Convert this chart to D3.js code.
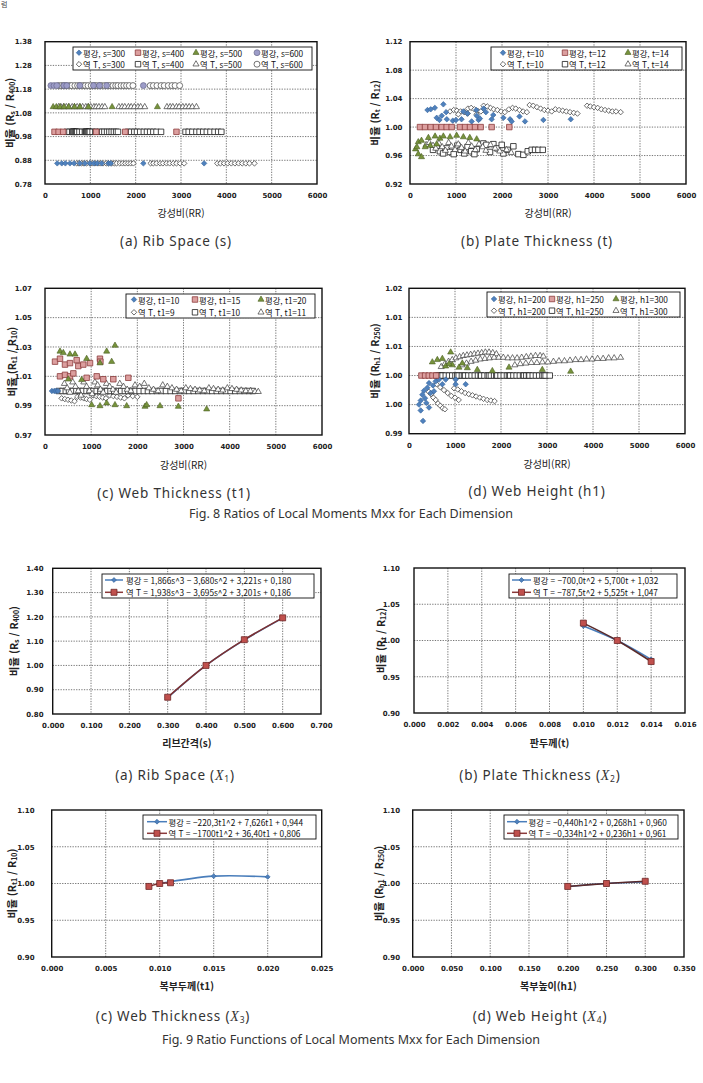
<!DOCTYPE html>
<html lang="ko">
<head>
<meta charset="UTF-8">
<title>Fig. 8 / Fig. 9 - Local Moments Mxx</title>
<script src="https://d3js.org/d3.v7.min.js"></script>
<style>
  body { margin: 0; background: #fff; }
  svg { display: block; }
</style>
</head>
<body>
<svg id="fig" width="703" height="1083"></svg>
<script>
// ---------- data : Fig. 8 (scatter, x = 강성비 RR) ----------
const rrTicks = [0, 1000, 2000, 3000, 4000, 5000, 6000];

// (a) Rib Space : every series sits on one ratio level
const f8aYTicks = [0.78, 0.88, 0.98, 1.08, 1.18, 1.28, 1.38];
const f8aLevels = [0.867, 1.000, 1.105, 1.195];           // s=300, 400, 500, 600
const f8aPg300 = [270, 370, 450, 550, 640, 770, 880, 990, 1080, 1150, 1250, 1400, 1450, 2170, 3510];
const f8aPg400 = [210, 300, 400, 1130, 1770, 2900];
const f8aPg500 = [180, 250, 330, 420, 520, 650, 770, 960, 1480, 2480];
const f8aPg600 = [130, 200, 260, 420, 480, 770, 1070, 1200, 1360, 2170];
const f8aYt300 = [700, 750, 810, 860, 920, 990, 1040, 1100, 1170, 1220, 1280, 1350, 1400, 1470, 1530, 1580, 1650, 1710, 1770, 1830, 1890, 1950,
                  2330, 2390, 2460, 2540, 2600, 2680, 2750, 2830, 2900, 2980, 3070,
                  3800, 3870, 3950, 4030, 4110, 4190, 4270, 4350, 4430, 4510, 4620];
const f8aYt400 = [480, 540, 600, 615, 630, 650, 670, 690, 710, 760, 820, 880, 895, 910, 930, 950, 970, 990, 1050, 1110, 1200, 1260, 1310, 1370, 1420, 1470, 1520, 1570, 1610,
                  1830, 1900, 1970, 2030, 2100, 2180, 2250, 2320, 2390, 2460, 2560,
                  3100, 3170, 3250, 3340, 3410, 3490, 3570, 3650, 3740, 3820, 3890];
const f8aYt500 = [300, 350, 410, 470, 530, 600, 650, 710, 770, 830, 900, 950, 1010, 1080, 1130, 1190, 1260, 1320,
                  1630, 1700, 1760, 1840, 1900, 1970, 2050, 2110, 2200,
                  2690, 2760, 2820, 2900, 2960, 3040, 3110, 3180, 3250, 3340];
const f8aYt600 = [300, 360, 410, 470, 540, 590, 660, 720, 770, 840, 890, 950, 1020, 1080, 1130, 1200, 1250, 1320, 1380, 1430, 1500, 1560, 1610, 1680, 1740, 1800, 1860, 1940,
                  2320, 2390, 2470, 2560, 2630, 2720, 2800, 2870, 2970];

// (b) Plate Thickness : [RR, ratio]
const f8bYTicks = [0.92, 0.96, 1.00, 1.04, 1.08, 1.12];
const f8bPg10 = [[380,1.024],[450,1.025],[540,1.027],[725,1.032],[580,1.013],[690,1.016],[640,1.010],[785,1.021],[800,1.011],[930,1.009],
                 [1000,1.010],[1120,1.011],[1160,1.022],[1250,1.019],[1340,1.008],[1440,1.024],[1450,1.016],[1490,1.010],[1520,1.012],[1600,1.026],
                 [1650,1.021],[1775,1.011],[1810,1.017],[2030,1.013],[2175,1.011],[2210,1.008],[2380,1.015],[2500,1.008],[2900,1.010],[3495,1.011]];
const f8bPg12 = [[217,1.000],[326,1.000],[449,1.000],[565,1.000],[688,1.000],[797,1.000],[906,1.000],[1087,1.000],[1196,1.000],[1304,1.000],
                 [1413,1.000],[1536,1.000],[1775,1.000],[2159,1.000]];
const f8bPg14 = [[120,0.969],[180,0.962],[250,0.958],[180,0.979],[250,0.981],[330,0.972],[400,0.985],[440,0.974],[545,0.987],[580,0.976],
                 [650,0.984],[725,0.987],[870,0.986],[1015,0.988],[1160,0.986],[1300,0.985],[1450,0.983],[150,0.972]];
const f8bYt10 = [[870,1.022],[950,1.024],[1020,1.023],[1100,1.022],[1180,1.021],[1260,1.026],[1330,1.027],[1400,1.025],[1470,1.023],[1540,1.022],
                 [1600,1.030],[1680,1.029],[1750,1.027],[1820,1.025],[1900,1.024],[1980,1.022],[2060,1.021],[2150,1.025],[2230,1.027],[2300,1.026],
                 [2380,1.024],[2460,1.022],[2540,1.021],[2600,1.031],[2680,1.030],[2760,1.028],[2840,1.026],[2920,1.024],[3000,1.023],[3080,1.022],
                 [3160,1.025],[3240,1.024],[3320,1.023],[3400,1.022],[3480,1.021],[3560,1.020],[3640,1.019],[3850,1.030],[3920,1.029],[4000,1.028],
                 [4080,1.027],[4160,1.025],[4240,1.024],[4320,1.023],[4400,1.022],[4480,1.022],[4580,1.021],[1050,1.018],[1250,1.019],[1450,1.018]];
const f8bYt12 = [[500,0.968],[580,0.972],[650,0.966],[720,0.963],[800,0.970],[870,0.965],[950,0.962],[1030,0.974],[1100,0.968],[1180,0.963],
                 [1250,0.972],[1330,0.966],[1400,0.962],[1450,0.969],[1595,0.977],[1660,0.975],[1740,0.965],[1813,0.976],[1900,0.970],[1994,0.975],
                 [2030,0.963],[2120,0.968],[2247,0.973],[2356,0.962],[2465,0.961],[2560,0.966],[2646,0.968],[2720,0.968],[2791,0.968],[2886,0.968]];
const f8bYt14 = [[350,0.975],[420,0.978],[500,0.974],[560,0.970],[630,0.977],[700,0.972],[770,0.967],[840,0.978],[900,0.973],[980,0.968],
                 [1050,0.976],[1120,0.971],[1200,0.966],[1270,0.978],[1340,0.973],[1420,0.968],[1500,0.976],[1580,0.972],[1650,0.967],[1750,0.975],
                 [1850,0.970],[1950,0.966],[2100,0.968],[2200,0.964]];

// (c) Web Thickness
const f8cYTicks = [0.97, 0.99, 1.01, 1.03, 1.05, 1.07];
const f8cPg10 = [[150,1.000],[200,1.000],[240,1.000],[280,1.000]];
const f8cPg15 = [[217,1.020],[325,1.022],[433,1.018],[541,1.019],[686,1.021],[722,1.017],[830,1.018],[975,1.019],[1190,1.022],[1200,1.020],
                 [325,1.010],[433,1.011],[541,1.010],[614,1.012],[902,1.009],[1120,1.010],[1263,1.008],[1480,1.008],[1805,1.009],[2890,0.995]];
const f8cPg20 = [[325,1.027],[397,1.026],[541,1.025],[650,1.025],[902,1.022],[1336,1.027],[1516,1.031],[1191,1.019],[1444,1.020],[505,1.008],
                 [794,1.0076],[1011,0.9905],[1191,0.9898],[1336,0.9917],[1516,0.9905],[1769,0.9898],[2166,0.9894],[2202,0.9905],[2491,0.9898],
                 [2888,0.9894],[3502,0.9876]];
const f8cYt9 = [[360,0.995],[430,0.9945],[500,0.994],[570,0.9935],[640,0.993],[700,0.996],[770,0.9955],[840,0.995],[900,0.9945],[970,0.994],
                [1040,0.997],[1110,0.9965],[1180,0.996],[1250,0.9955],[1320,0.995],[1400,0.997],[1480,0.9965],[1560,0.996],[1640,0.9955],[1720,0.995],
                [1800,0.997],[1900,0.9965],[2000,0.996]];
const f8cYt10 = [300, 380, 450, 520, 600, 680, 750, 820, 900, 970, 1050, 1120, 1200, 1270, 1350, 1420, 1500, 1580, 1650, 1730, 1800, 1880, 1960,
                 2050, 2140, 2230, 2320, 2420, 2520, 2620, 2720, 2820, 2920, 3020, 3120, 3220, 3320, 3420, 3520, 3620, 3720, 3820, 3920, 4020,
                 4120, 4220, 4320, 4420, 4500];
const f8cYt11 = [[420,1.005],[480,1.002],[540,0.999],[600,1.006],[660,1.003],[720,1.000],[780,0.997],[840,1.006],[900,1.003],[960,1.000],
                 [1020,0.998],[1080,1.006],[1140,1.004],[1200,1.001],[1260,0.999],[1330,1.005],[1400,1.003],[1470,1.001],[1540,0.999],[1620,1.005],
                 [1700,1.003],[1780,1.001],[1860,1.000],[1950,1.004],[2050,1.003],[2150,1.005],[2250,1.002],[2350,1.001],[2450,1.000],[2550,1.004],
                 [2650,1.003],[2750,1.002],[2850,1.001],[2950,1.000],[3050,1.002],[3150,1.0015],[3250,1.001],[3350,1.0005],[3450,1.000],[3550,1.002],
                 [3650,1.0015],[3750,1.001],[3850,1.0005],[3950,1.002],[4050,1.0015],[4150,1.001],[4250,1.0005],[4350,1.000],[4450,1.000],[4550,0.9995],
                 [4620,0.9995]];

// (d) Web Height
const f8dYTicks = [0.990, 0.995, 1.000, 1.005, 1.010, 1.015];
const f8dYLabels = ["0.99", "1.00", "1.00", "1.01", "1.01", "1.02"];
const f8dPg200 = [[217,0.9950],[254,0.9940],[304,0.9922],[290,0.9967],[348,0.9961],[398,0.9979],[435,0.9987],[471,0.9970],[522,0.9983],[580,0.9990],
                  [652,0.9993],[377,0.9953],[435,0.9945],[254,0.9957],[326,0.9974],[797,0.9993],[1014,0.9993],[1232,0.9985],[543,0.9973],[725,0.9985],
                  [1014,0.9985]];
const f8dPg250 = [[270,1.000],[350,1.000],[430,1.000],[510,1.000],[590,1.000]];
const f8dPg300 = [[507,1.0023],[616,1.0027],[725,1.0029],[906,1.0040],[797,1.0016],[942,1.0018],[1087,1.0014],[1268,1.0013],[1485,1.0010],
                  [1812,1.0008],[2174,1.0014],[2898,1.0010],[3514,1.0007],[1159,1.0021],[870,1.0020]];
const f8dYt200 = [[430,0.9972],[480,0.9968],[530,0.9962],[580,0.9958],[630,0.9952],[680,0.9948],[730,0.9944],[780,0.9942],
                  [600,0.9985],[680,0.9980],[760,0.9975],[840,0.9970],[920,0.9965],[1000,0.9962],[1080,0.9958],
                  [980,0.9978],[1060,0.9976],[1140,0.9973],[1220,0.9970],[1300,0.9968],[1380,0.9966],[1460,0.9964],[1540,0.9962],[1620,0.9960],
                  [1700,0.9958],[1780,0.9957],[1860,0.9956]];
const f8dYt250 = [620, 650, 680, 700, 730, 800, 870, 940, 1010, 1050, 1080, 1150, 1196, 1220, 1290, 1360, 1430, 1500, 1558, 1570, 1640, 1710, 1739,
                  1780, 1850, 1898, 1920, 1990, 2060, 2130, 2174, 2200, 2270, 2340, 2410, 2480, 2500, 2550, 2609, 2620, 2690, 2760, 2830,
                  2900, 2935, 2970, 3060];
const f8dYt300 = [[700,1.0015],[780,1.0020],[860,1.0024],[940,1.0027],[1020,1.0030],[1100,1.0032],[1180,1.0034],[1260,1.0035],[1340,1.0036],
                  [1420,1.0037],[1500,1.0038],[1580,1.0039],[1660,1.0040],[1740,1.0040],[1820,1.0039],[1900,1.0037],
                  [1150,1.0018],[1250,1.0021],[1350,1.0024],[1450,1.0026],[1550,1.0028],[1650,1.0029],[1750,1.0030],[1850,1.0031],[1950,1.0031],
                  [2050,1.0031],[2150,1.0030],[2250,1.0030],[2350,1.0030],[2450,1.0031],[2550,1.0032],[2650,1.0033],[2750,1.0034],[2850,1.0034],
                  [2920,1.0033],
                  [2300,1.0018],[2420,1.0020],[2540,1.0021],[2660,1.0022],[2780,1.0022],[2900,1.0023],[3020,1.0023],[3140,1.0024],[3260,1.0025],
                  [3380,1.0025],[3500,1.0026],[3620,1.0027],[3740,1.0027],[3860,1.0028],[3980,1.0028],[4100,1.0029],[4220,1.0029],[4340,1.0030],
                  [4460,1.0030],[4600,1.0031]];

// ---------- data : Fig. 9 (ratio functions) ----------
const f9aXTicks = [0, 0.1, 0.2, 0.3, 0.4, 0.5, 0.6, 0.7];
const f9aYTicks = [0.80, 0.90, 1.00, 1.10, 1.20, 1.30, 1.40];
const f9aX = [0.3, 0.4, 0.5, 0.6];
const f9aPg = [0.867, 1.000, 1.105, 1.195];
const f9aYt = [0.869, 1.000, 1.106, 1.196];

const f9bXTicks = [0, 0.002, 0.004, 0.006, 0.008, 0.010, 0.012, 0.014, 0.016];
const f9YTicks = [0.90, 0.95, 1.00, 1.05, 1.10];
const f9bX = [0.010, 0.012, 0.014];
const f9bPg = [1.020, 1.000, 0.974];
const f9bYt = [1.024, 1.000, 0.971];

const f9cXTicks = [0, 0.005, 0.010, 0.015, 0.020, 0.025];
const f9cPgX = [0.010, 0.015, 0.020];
const f9cPg = [1.000, 1.010, 1.009];
const f9cYtX = [0.009, 0.010, 0.011];
const f9cYt = [0.996, 1.000, 1.001];

const f9dXTicks = [0, 0.05, 0.10, 0.15, 0.20, 0.25, 0.30, 0.35];
const f9dX = [0.20, 0.25, 0.30];
const f9dPg = [0.996, 1.000, 1.002];
const f9dYt = [0.996, 1.000, 1.003];

// ---------- drawing ----------
const svg = d3.select("#fig");
svg.append("rect").attr("width", 703).attr("height", 1083).attr("fill", "#fff");

const KR = "'Noto Sans CJK KR', 'Noto Sans', sans-serif";
const TICKF = "'DejaVu Sans', sans-serif";

const sty = {
  pgDia:  { type: d3.symbolSquare, size: 15, rot: 45, fill: "#4f81bd", stroke: "#34639b", sw: 0.6 },
  pgSq:   { type: d3.symbolSquare, size: 30, rot: 0,  fill: "#dc9f9f", stroke: "#8c3b3b", sw: 0.8 },
  pgTri:  { type: d3.symbolTriangle, size: 16, rot: 0, fill: "#77933c", stroke: "#4a5e22", sw: 0.6 },
  pgCir:  { type: d3.symbolCircle, size: 28, rot: 0,  fill: "#9c9cc8", stroke: "#5e5e80", sw: 0.6 },
  ytDia:  { type: d3.symbolSquare, size: 15, rot: 45, fill: "#fff", stroke: "#3a3a3a", sw: 0.7 },
  ytSq:   { type: d3.symbolSquare, size: 30, rot: 0,  fill: "#fff", stroke: "#1a1a1a", sw: 0.8 },
  ytTri:  { type: d3.symbolTriangle, size: 16, rot: 0, fill: "#fff", stroke: "#3a3a3a", sw: 0.7 },
  ytCir:  { type: d3.symbolCircle, size: 28, rot: 0,  fill: "#fff", stroke: "#3a3a3a", sw: 0.7 }
};

function mark(g, px, py, s) {
  g.append("path")
    .attr("d", d3.symbol().type(s.type).size(s.size)())
    .attr("transform", `translate(${px},${py}) rotate(${s.rot})`)
    .attr("fill", s.fill).attr("stroke", s.stroke).attr("stroke-width", s.sw);
}

function frame(p) {
  const b = p.box;
  const x = d3.scaleLinear().domain(p.xDomain).range([b.x, b.x + b.w]);
  const y = d3.scaleLinear().domain(p.yDomain).range([b.y + b.h, b.y]);
  const g = svg.append("g");
  g.append("rect").attr("x", b.x).attr("y", b.y).attr("width", b.w).attr("height", b.h).attr("fill", "#fff");

  g.append("g").selectAll("line").data(p.xTicks.slice(1, -1)).join("line")
    .attr("x1", d => x(d)).attr("x2", d => x(d)).attr("y1", b.y).attr("y2", b.y + b.h)
    .attr("stroke", "#555").attr("stroke-width", 0.8).attr("stroke-dasharray", "1.3,1.3");
  g.append("g").selectAll("line").data(p.yTicks.slice(1, -1)).join("line")
    .attr("y1", d => y(d)).attr("y2", d => y(d)).attr("x1", b.x).attr("x2", b.x + b.w)
    .attr("stroke", "#555").attr("stroke-width", 0.8).attr("stroke-dasharray", "1.3,1.3");

  const ax = g.append("g").attr("transform", `translate(0,${b.y + b.h})`)
    .call(d3.axisBottom(x).tickValues(p.xTicks).tickFormat(p.xFormat).tickSize(0).tickPadding(9));
  const ay = g.append("g").attr("transform", `translate(${b.x},0)`)
    .call(d3.axisLeft(y).tickValues(p.yTicks).tickFormat(p.yFormat).tickSize(0).tickPadding(b.x - p.yLabRight));
  [ax, ay].forEach(a => {
    a.select(".domain").remove();
    a.attr("font-family", TICKF).attr("font-size", 7).attr("font-weight", "bold");
    a.selectAll("text").attr("fill", "#222");
  });

  // axis titles
  svg.append("text").attr("x", b.x + b.w / 2).attr("y", p.xTitleY)
    .attr("text-anchor", "middle").attr("dominant-baseline", "central")
    .attr("font-family", KR).attr("font-size", 10).attr("font-weight", p.xTitleBold ? "bold" : "normal")
    .attr("fill", "#222").text(p.xTitle);

  const t = svg.append("text")
    .attr("transform", `translate(${p.yTitleX},${b.y + b.h / 2}) rotate(-90)`)
    .attr("text-anchor", "middle").attr("dominant-baseline", "central")
    .attr("font-family", KR).attr("font-size", 10.5).attr("font-weight", "bold").attr("fill", "#222");
  t.append("tspan").text("비율  (R");
  t.append("tspan").attr("font-size", 7).attr("dy", 2.5).text(p.ySub[0]);
  t.append("tspan").attr("dy", -2.5).text(" / R");
  t.append("tspan").attr("font-size", 7).attr("dy", 2.5).text(p.ySub[1]);
  t.append("tspan").attr("dy", -2.5).text(")");

  return { x, y, g, b };
}

function border(pl) {
  const b = pl.b;
  svg.append("rect").attr("x", b.x).attr("y", b.y).attr("width", b.w).attr("height", b.h)
    .attr("fill", "none").attr("stroke", "#111").attr("stroke-width", 1.4);
}

function scatter(pl, pts, s) {
  const g = pl.g.append("g");
  pts.forEach(d => mark(g, pl.x(d[0]), pl.y(d[1]), s));
}

function legend8(box, colX, rowY, items) {
  svg.append("rect").attr("x", box[0]).attr("y", box[1]).attr("width", box[2] - box[0]).attr("height", box[3] - box[1])
    .attr("fill", "#fff").attr("stroke", "#111").attr("stroke-width", 0.9);
  const n = colX.length;
  const lg = svg.append("g");
  items.forEach((it, i) => {
    const cx = colX[i % n], cy = rowY[Math.floor(i / n)];
    mark(lg, cx, cy, it[0]);
    lg.append("text").attr("x", cx + 4).attr("y", cy).attr("dominant-baseline", "central")
      .attr("font-family", KR).attr("font-size", 8.3).attr("fill", "#111").text(it[1]);
  });
}

const sty9 = {
  pg: { type: d3.symbolSquare, size: 12, rot: 45, fill: "#4f81bd", stroke: "#34639b", sw: 0.6 },
  yt: { type: d3.symbolSquare, size: 36, rot: 0, fill: "#c0504d", stroke: "#6e2626", sw: 0.8 }
};

function legend9(box, x1, x2, tx, rowY, labels) {
  svg.append("rect").attr("x", box[0]).attr("y", box[1]).attr("width", box[2] - box[0]).attr("height", box[3] - box[1])
    .attr("fill", "#fff").attr("stroke", "#111").attr("stroke-width", 0.9);
  const lg = svg.append("g");
  const lineC = ["#4a7ebb", "#8b3a3a"], ms = [sty9.pg, sty9.yt];
  rowY.forEach((cy, i) => {
    lg.append("line").attr("x1", x1).attr("x2", x2).attr("y1", cy).attr("y2", cy)
      .attr("stroke", lineC[i]).attr("stroke-width", 1.5);
    mark(lg, (x1 + x2) / 2, cy, ms[i]);
    lg.append("text").attr("x", tx).attr("y", cy).attr("dominant-baseline", "central")
      .attr("font-family", KR).attr("font-size", 8.3).attr("fill", "#111").text(labels[i]);
  });
}

function fnLine(pl, xs, ys, color, s) {
  const pts = xs.map((v, i) => [pl.x(v), pl.y(ys[i])]);
  pl.g.append("path").attr("d", d3.line().curve(d3.curveCatmullRom.alpha(0.5))(pts))
    .attr("fill", "none").attr("stroke", color).attr("stroke-width", 1.6);
  pts.forEach(p => mark(pl.g, p[0], p[1], s));
}

const rrFmt = d3.format("d"), f2 = d3.format(".2f"), f3 = d3.format(".3f");

// stray glyph from the previous page line, top-left corner
svg.append("text").attr("x", 1).attr("y", 7).attr("font-family", KR).attr("font-size", 7).attr("fill", "#444").text("럼");

// ----- Fig 8 (a)
const p8a = frame({ box: { x: 45, y: 41.7, w: 272, h: 142.3 }, xDomain: [0, 6000], yDomain: [0.78, 1.38],
  xTicks: rrTicks, xFormat: rrFmt, yTicks: f8aYTicks, yFormat: f2, yLabRight: 32,
  xTitle: "강성비(RR)", xTitleY: 212, yTitleX: 9, ySub: ["s", "400"] });
scatter(p8a, f8aYt300.map(r => [r, f8aLevels[0]]), sty.ytDia);
scatter(p8a, f8aYt400.map(r => [r, f8aLevels[1]]), sty.ytSq);
scatter(p8a, f8aYt500.map(r => [r, f8aLevels[2]]), sty.ytTri);
scatter(p8a, f8aYt600.map(r => [r, f8aLevels[3]]), sty.ytCir);
scatter(p8a, f8aPg300.map(r => [r, f8aLevels[0]]), sty.pgDia);
scatter(p8a, f8aPg400.map(r => [r, f8aLevels[1]]), sty.pgSq);
scatter(p8a, f8aPg500.map(r => [r, f8aLevels[2]]), sty.pgTri);
scatter(p8a, f8aPg600.map(r => [r, f8aLevels[3]]), sty.pgCir);
border(p8a);
legend8([73, 47, 312, 70], [79, 138, 196, 257], [52.7, 64.2], [
  [sty.pgDia, "평강, s=300"], [sty.pgSq, "평강, s=400"], [sty.pgTri, "평강, s=500"], [sty.pgCir, "평강, s=600"],
  [sty.ytDia, "역 T, s=300"], [sty.ytSq, "역 T, s=400"], [sty.ytTri, "역 T, s=500"], [sty.ytCir, "역 T, s=600"]]);

// ----- Fig 8 (b)
const p8b = frame({ box: { x: 410, y: 41.7, w: 276, h: 142.3 }, xDomain: [0, 6000], yDomain: [0.92, 1.12],
  xTicks: rrTicks, xFormat: rrFmt, yTicks: f8bYTicks, yFormat: f2, yLabRight: 402.5,
  xTitle: "강성비(RR)", xTitleY: 212, yTitleX: 374, ySub: ["t", "12"] });
scatter(p8b, f8bYt10, sty.ytDia);
scatter(p8b, f8bYt12, sty.ytSq);
scatter(p8b, f8bYt14, sty.ytTri);
scatter(p8b, f8bPg10, sty.pgDia);
scatter(p8b, f8bPg12, sty.pgSq);
scatter(p8b, f8bPg14, sty.pgTri);
border(p8b);
legend8([491, 47, 682, 70], [503, 565, 628], [52.7, 64.2], [
  [sty.pgDia, "평강, t=10"], [sty.pgSq, "평강, t=12"], [sty.pgTri, "평강, t=14"],
  [sty.ytDia, "역 T, t=10"], [sty.ytSq, "역 T, t=12"], [sty.ytTri, "역 T, t=14"]]);

// ----- Fig 8 (c)
const p8c = frame({ box: { x: 45, y: 288.3, w: 277, h: 146.7 }, xDomain: [0, 6000], yDomain: [0.97, 1.07],
  xTicks: rrTicks, xFormat: rrFmt, yTicks: f8cYTicks, yFormat: f2, yLabRight: 32,
  xTitle: "강성비(RR)", xTitleY: 464, yTitleX: 11, ySub: ["t1", "10"] });
scatter(p8c, f8cYt9, sty.ytDia);
scatter(p8c, f8cYt10.map(r => [r, 1.000]), sty.ytSq);
scatter(p8c, f8cYt11, sty.ytTri);
scatter(p8c, f8cPg10, sty.pgDia);
scatter(p8c, f8cPg15, sty.pgSq);
scatter(p8c, f8cPg20, sty.pgTri);
border(p8c);
legend8([126, 294, 315, 318], [134, 195, 261], [299.5, 312.3], [
  [sty.pgDia, "평강, t1=10"], [sty.pgSq, "평강, t1=15"], [sty.pgTri, "평강, t1=20"],
  [sty.ytDia, "역 T, t1=9"], [sty.ytSq, "역 T, t1=10"], [sty.ytTri, "역 T, t1=11"]]);

// ----- Fig 8 (d)
const p8d = frame({ box: { x: 409, y: 288.3, w: 276, h: 145.4 }, xDomain: [0, 6000], yDomain: [0.990, 1.015],
  xTicks: rrTicks, xFormat: rrFmt, yTicks: f8dYTicks, yFormat: (d, i) => f8dYLabels[i], yLabRight: 402.5,
  xTitle: "강성비(RR)", xTitleY: 463, yTitleX: 374, ySub: ["h1", "250"] });
scatter(p8d, f8dYt200, sty.ytDia);
scatter(p8d, f8dYt250.map(r => [r, 1.000]), sty.ytSq);
scatter(p8d, f8dYt300, sty.ytTri);
scatter(p8d, f8dPg200, sty.pgDia);
scatter(p8d, f8dPg250, sty.pgSq);
scatter(p8d, f8dPg300, sty.pgTri);
border(p8d);
legend8([487, 292, 680, 317], [494, 552, 616], [299, 310.7], [
  [sty.pgDia, "평강, h1=200"], [sty.pgSq, "평강, h1=250"], [sty.pgTri, "평강, h1=300"],
  [sty.ytDia, "역 T, h1=200"], [sty.ytSq, "역 T, h1=250"], [sty.ytTri, "역 T, h1=300"]]);

// ----- Fig 9 (a)
const p9a = frame({ box: { x: 52.7, y: 568.3, w: 268.3, h: 145.7 }, xDomain: [0, 0.7], yDomain: [0.80, 1.40],
  xTicks: f9aXTicks, xFormat: f3, yTicks: f9aYTicks, yFormat: f2, yLabRight: 43.5,
  xTitle: "리브간격(s)", xTitleBold: true, xTitleY: 742, yTitleX: 13, ySub: ["s", "400"] });
fnLine(p9a, f9aX, f9aPg, "#4a7ebb", sty9.pg);
fnLine(p9a, f9aX, f9aYt, "#7e3030", sty9.yt);
border(p9a);
legend9([102, 574, 314, 598], 105, 123, 126, [580, 592.3],
  ["평강 = 1,866s^3 − 3,680s^2 + 3,221s + 0,180", "역 T = 1,938s^3 − 3,695s^2 + 3,201s + 0,186"]);

// ----- Fig 9 (b)
const p9b = frame({ box: { x: 414, y: 568, w: 271, h: 145 }, xDomain: [0, 0.016], yDomain: [0.90, 1.10],
  xTicks: f9bXTicks, xFormat: f3, yTicks: f9YTicks, yFormat: f2, yLabRight: 400,
  xTitle: "판두께(t)", xTitleBold: true, xTitleY: 742, yTitleX: 380, ySub: ["t", "12"] });
fnLine(p9b, f9bX, f9bPg, "#4a7ebb", sty9.pg);
fnLine(p9b, f9bX, f9bYt, "#5a2a2a", sty9.yt);
border(p9b);
legend9([509, 574, 677, 598], 512, 531, 533, [580, 592.3],
  ["평강 = −700,0t^2 + 5,700t + 1,032", "역 T = −787,5t^2 + 5,525t + 1,047"]);

// ----- Fig 9 (c)
const p9c = frame({ box: { x: 51.7, y: 810, w: 270, h: 147 }, xDomain: [0, 0.025], yDomain: [0.90, 1.10],
  xTicks: f9cXTicks, xFormat: f3, yTicks: f9YTicks, yFormat: f2, yLabRight: 34.5,
  xTitle: "복부두께(t1)", xTitleBold: true, xTitleY: 985.7, yTitleX: 11, ySub: ["t1", "10"] });
fnLine(p9c, f9cPgX, f9cPg, "#4a7ebb", sty9.pg);
fnLine(p9c, f9cYtX, f9cYt, "#7e3030", sty9.yt);
border(p9c);
legend9([143, 815, 316, 839], 147, 167, 168.5, [821.7, 833.3],
  ["평강 = −220,3t1^2 + 7,626t1 + 0,944", "역 T = −1700t1^2 + 36,40t1 + 0,806"]);

// ----- Fig 9 (d)
const p9d = frame({ box: { x: 412.7, y: 810, w: 271.3, h: 147 }, xDomain: [0, 0.35], yDomain: [0.90, 1.10],
  xTicks: f9dXTicks, xFormat: f3, yTicks: f9YTicks, yFormat: f2, yLabRight: 400,
  xTitle: "복부높이(h1)", xTitleBold: true, xTitleY: 985, yTitleX: 378, ySub: ["h1", "250"] });
fnLine(p9d, f9dX, f9dPg, "#4a7ebb", sty9.pg);
fnLine(p9d, f9dX, f9dYt, "#5a2a2a", sty9.yt);
border(p9d);
legend9([504, 815, 678, 839], 507, 527, 528.5, [821.7, 833.3],
  ["평강 = −0,440h1^2 + 0,268h1 + 0,960", "역 T = −0,334h1^2 + 0,236h1 + 0,961"]);

// ----- captions
function caption(cx, cy, parts, size, ls) {
  const t = svg.append("text").attr("x", cx).attr("y", cy).attr("text-anchor", "middle")
    .attr("dominant-baseline", "central").attr("font-family", "'Noto Sans', sans-serif")
    .attr("font-size", size).attr("letter-spacing", ls).attr("fill", "#333");
  parts.forEach(p => {
    const s = t.append("tspan").text(p.t);
    if (p.it) s.attr("font-family", "'Liberation Serif', serif").attr("font-style", "italic").attr("font-size", 14);
    if (p.sub) s.attr("font-size", 8.5).attr("dy", 3);
    if (p.up) s.attr("dy", -3);
  });
}
caption(176, 241, [{ t: "(a) Rib Space (s)" }], 13.5, 0.8);
caption(537, 241, [{ t: "(b) Plate Thickness (t)" }], 13.5, 0.8);
caption(174, 493, [{ t: "(c) Web Thickness (t1)" }], 13.5, 0.8);
caption(537, 491, [{ t: "(d) Web Height (h1)" }], 13.5, 0.8);
caption(351, 513, [{ t: "Fig. 8 Ratios of Local Moments Mxx for Each Dimension" }], 12.5, 0);

caption(175, 775, [{ t: "(a) Rib Space (" }, { t: "X", it: true }, { t: "1", sub: true }, { t: ")", up: true }], 13.5, 0.8);
caption(540, 775, [{ t: "(b) Plate Thickness (" }, { t: "X", it: true }, { t: "2", sub: true }, { t: ")", up: true }], 13.5, 0.8);
caption(173, 1016, [{ t: "(c) Web Thickness (" }, { t: "X", it: true }, { t: "3", sub: true }, { t: ")", up: true }], 13.5, 0.8);
caption(540, 1016, [{ t: "(d) Web Height (" }, { t: "X", it: true }, { t: "4", sub: true }, { t: ")", up: true }], 13.5, 0.8);
caption(351, 1039, [{ t: "Fig. 9 Ratio Functions of Local Moments Mxx for Each Dimension" }], 12.5, 0);
</script>
</body>
</html>
